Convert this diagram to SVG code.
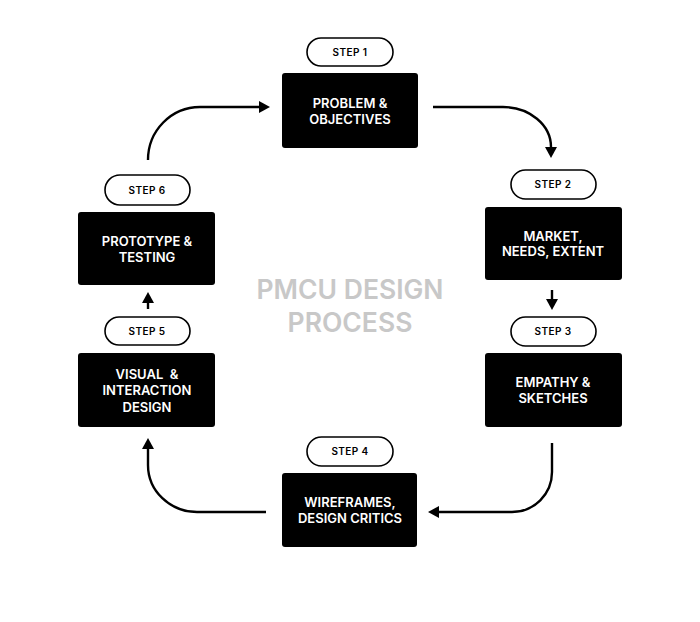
<svg xmlns="http://www.w3.org/2000/svg" width="700" height="622" viewBox="0 0 700 622">
<style>
.box{fill:#000}
.pill{fill:#fff;stroke:#000;stroke-width:1.6}
.bt{fill:#fff;font-family:Inter,"Liberation Sans",sans-serif;font-weight:600;font-size:13px;text-anchor:middle}
.pt{fill:#000;font-family:Inter,"Liberation Sans",sans-serif;font-weight:600;font-size:10px;text-anchor:middle;letter-spacing:0.4px}
.title{fill:#c8c8c8;font-family:Inter,"Liberation Sans",sans-serif;font-weight:600;font-size:26.5px;text-anchor:middle}
.conn{fill:none;stroke:#000;stroke-width:2.4}
</style>
<defs>
<marker id="ah" markerUnits="userSpaceOnUse" markerWidth="14" markerHeight="14" viewBox="0 -7 12 14" refX="0" refY="0" orient="auto">
<path d="M0,-6 L11,0 L0,6 Z" fill="#000"/>
</marker>
</defs>
<rect width="700" height="622" fill="#fff"/>
<g id="connectors">
<path class="conn" d="M148,160 A52,53 0 0 1 200,107 L259,107" marker-end="url(#ah)"/>
<path class="conn" d="M433,107 L503,107 A48,40 0 0 1 551,147" marker-end="url(#ah)"/>
<path class="conn" d="M552,290 L552,299" marker-end="url(#ah)"/>
<path class="conn" d="M552,443 L552,472 A40,40 0 0 1 512,512 L439,512" marker-end="url(#ah)"/>
<path class="conn" d="M266,512 L197,512 A49,47 0 0 1 148,465 L148,449" marker-end="url(#ah)"/>
<path class="conn" d="M148,309 L148,303" marker-end="url(#ah)"/>
</g>
<g id="title">
<text class="title" x="350" y="298.5">PMCU DESIGN</text>
<text class="title" x="350" y="331.5">PROCESS</text>
</g>
<g id="step1">
<rect class="pill" x="307" y="38" width="86" height="28" rx="14"/>
<text class="pt" x="350" y="56">STEP 1</text>
<rect class="box" x="282" y="73" width="136" height="75" rx="3"/>
<text class="bt" x="350" y="108">PROBLEM &amp;</text>
<text class="bt" x="350" y="124">OBJECTIVES</text>
</g>
<g id="step2">
<rect class="pill" x="511" y="170" width="85" height="29" rx="14.5"/>
<text class="pt" x="553" y="188">STEP 2</text>
<rect class="box" x="485" y="207" width="137" height="73" rx="3"/>
<text class="bt" x="553" y="241">MARKET,</text>
<text class="bt" x="553" y="256">NEEDS, EXTENT</text>
</g>
<g id="step3">
<rect class="pill" x="511" y="317" width="85" height="29" rx="14.5"/>
<text class="pt" x="553" y="335">STEP 3</text>
<rect class="box" x="485" y="353" width="137" height="74" rx="3"/>
<text class="bt" x="553" y="387">EMPATHY &amp;</text>
<text class="bt" x="553" y="403">SKETCHES</text>
</g>
<g id="step4">
<rect class="pill" x="307" y="437" width="86" height="29" rx="14.5"/>
<text class="pt" x="350" y="455">STEP 4</text>
<rect class="box" x="282" y="473" width="135" height="74" rx="3"/>
<text class="bt" x="350" y="507">WIREFRAMES,</text>
<text class="bt" x="350" y="523">DESIGN CRITICS</text>
</g>
<g id="step5">
<rect class="pill" x="105" y="317" width="85" height="28" rx="14"/>
<text class="pt" x="147" y="335">STEP 5</text>
<rect class="box" x="78" y="353" width="137" height="74" rx="3"/>
<text class="bt" x="147" y="379" xml:space="preserve">VISUAL  &amp;</text>
<text class="bt" x="147" y="395">INTERACTION</text>
<text class="bt" x="147" y="412">DESIGN</text>
</g>
<g id="step6">
<rect class="pill" x="105" y="175" width="85" height="30" rx="15"/>
<text class="pt" x="147" y="194">STEP 6</text>
<rect class="box" x="78" y="212" width="137" height="73" rx="3"/>
<text class="bt" x="147" y="246">PROTOTYPE &amp;</text>
<text class="bt" x="147" y="262">TESTING</text>
</g>
</svg>
